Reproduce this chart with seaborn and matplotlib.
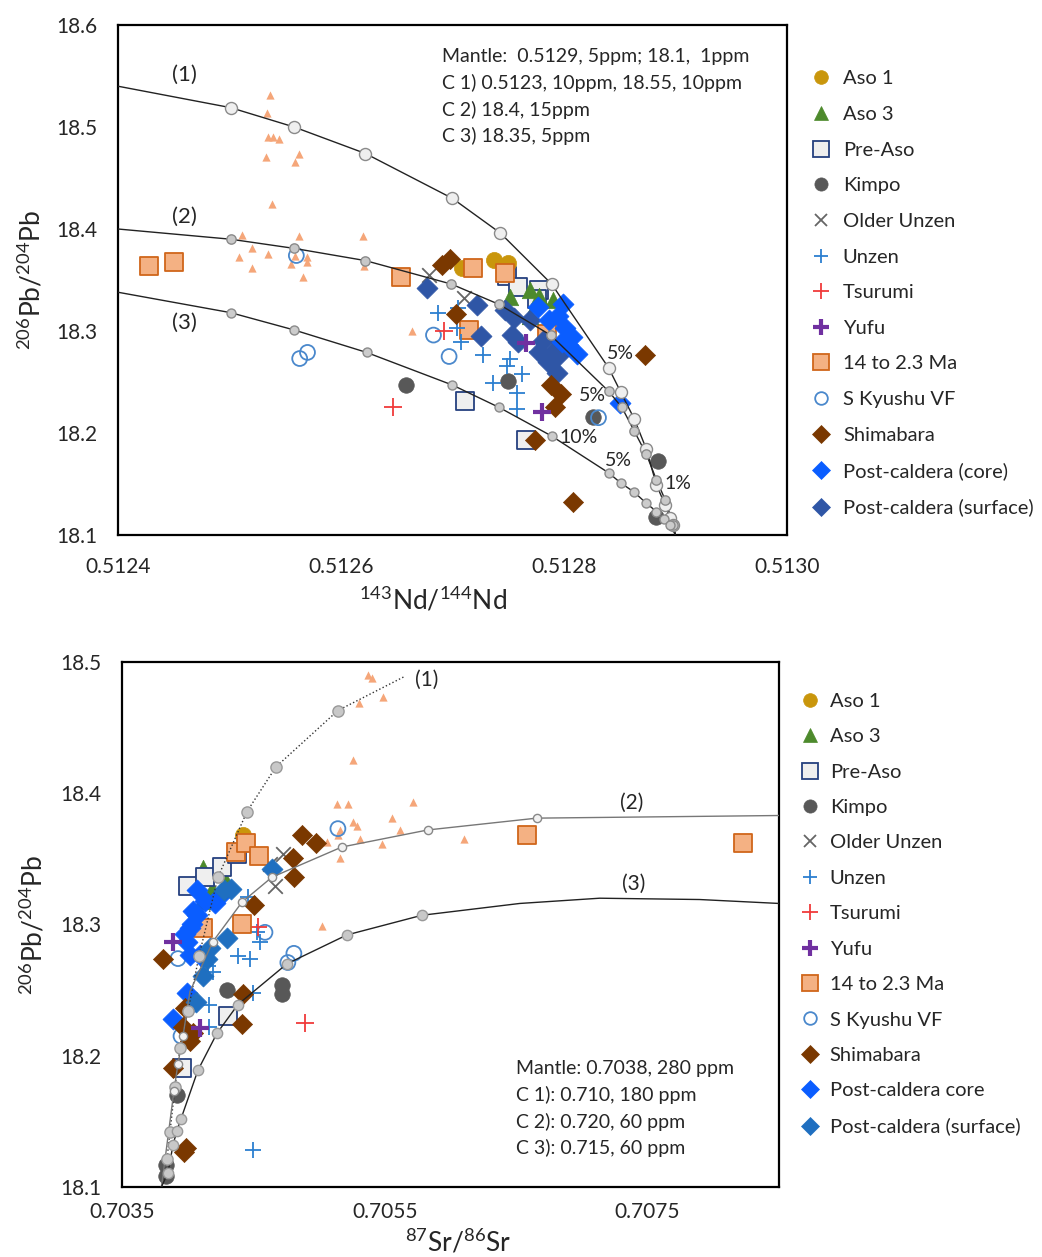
import matplotlib
matplotlib.use("Agg")
import matplotlib.pyplot as plt
from matplotlib.lines import Line2D
from matplotlib.ticker import MultipleLocator, FixedLocator, FuncFormatter
import seaborn as sns

# ------------------------------------------------------------------
# Panel A: 143Nd/144Nd vs 206Pb/204Pb
# ------------------------------------------------------------------
nd_aso1 = [0.512709, 0.512737, 0.512750]
pbA_aso1 = [18.362, 18.370, 18.367]
nd_aso3 = [0.512752, 0.512770, 0.512790, 0.512770, 0.512778]
pbA_aso3 = [18.333, 18.340, 18.330, 18.315, 18.334]
nd_preaso = [0.512749, 0.512759, 0.512778, 0.512776, 0.512711, 0.512766]
pbA_preaso = [18.354, 18.343, 18.340, 18.331, 18.231, 18.193]
nd_kimpo = [0.512658, 0.512750, 0.512884, 0.512883, 0.512826]
pbA_kimpo = [18.247, 18.251, 18.173, 18.118, 18.216]
nd_older_unzen = [0.512679, 0.512710]
pbA_older_unzen = [18.355, 18.332]
nd_unzen = [0.512687, 0.512705, 0.512704, 0.512708, 0.512727, 0.512752, 0.512749,
            0.512762, 0.512736, 0.512758, 0.512758, 0.512776]
pbA_unzen = [18.318, 18.323, 18.303, 18.289, 18.276, 18.273, 18.266,
             18.258, 18.249, 18.239, 18.224, 18.279]
nd_tsurumi = [0.512647, 0.512692]
pbA_tsurumi = [18.225, 18.300]
nd_yufu = [0.512766, 0.512780]
pbA_yufu = [18.288, 18.221]
nd_ma = [0.512428, 0.512450, 0.512654, 0.512718, 0.512747, 0.512715, 0.512785]
pbA_ma = [18.364, 18.368, 18.353, 18.362, 18.357, 18.301, 18.297]
nd_skyushu = [0.512560, 0.512563, 0.512570, 0.512683, 0.512697, 0.512831]
pbA_skyushu = [18.374, 18.273, 18.279, 18.296, 18.275, 18.215]
nd_shimabara = [0.512691, 0.512698, 0.512703, 0.512788, 0.512797, 0.512792,
                0.512774, 0.512873, 0.512808]
pbA_shimabara = [18.365, 18.371, 18.317, 18.247, 18.238, 18.225,
                 18.193, 18.276, 18.132]
nd_pc_core = [0.512777, 0.512799, 0.512787, 0.512801, 0.512807, 0.512798,
              0.512812, 0.512850, 0.512795, 0.512804]
pbA_pc_core = [18.324, 18.326, 18.311, 18.303, 18.294, 18.289,
               18.277, 18.229, 18.315, 18.286]
nd_pc_surf = [0.512677, 0.512722, 0.512747, 0.512755, 0.512726, 0.512753, 0.512759,
              0.512781, 0.512778, 0.512786, 0.512794, 0.512796, 0.512770, 0.512790]
pbA_pc_surf = [18.342, 18.325, 18.321, 18.313, 18.295, 18.296, 18.289,
               18.290, 18.279, 18.270, 18.259, 18.276, 18.311, 18.279]
# background field (small triangles, no legend entry)
nd_field = [0.512536, 0.512534, 0.512535, 0.512539, 0.512544, 0.512533, 0.512562,
            0.512559, 0.512538, 0.512511, 0.512562, 0.512620, 0.512520, 0.512535,
            0.512509, 0.512570, 0.512555, 0.512570, 0.512520, 0.512566, 0.512621,
            0.512664, 0.512559]
pbA_field = [18.531, 18.514, 18.490, 18.490, 18.488, 18.471, 18.474,
             18.466, 18.425, 18.394, 18.393, 18.393, 18.381, 18.375,
             18.373, 18.373, 18.366, 18.368, 18.362, 18.353, 18.364,
             18.300, 18.374]

# mixing curves (mantle end-member at 0.5129 / 18.1)
mixA1_nd = [0.51240, 0.512501, 0.512558, 0.512622, 0.512700, 0.512743, 0.512789,
            0.512840, 0.512851, 0.512863, 0.512874, 0.512883, 0.512891, 0.512895,
            0.512898, 0.51290]
mixA1_pb = [18.540, 18.519, 18.500, 18.474, 18.430, 18.396, 18.346,
            18.264, 18.240, 18.214, 18.184, 18.149, 18.129, 18.117,
            18.110, 18.100]
mixA2_nd = [0.51240, 0.512501, 0.512558, 0.512622, 0.512699, 0.512742, 0.512788,
            0.512840, 0.512852, 0.512863, 0.512874, 0.512883, 0.512891, 0.512898,
            0.51290]
mixA2_pb = [18.400, 18.390, 18.381, 18.369, 18.346, 18.326, 18.296,
            18.241, 18.225, 18.202, 18.179, 18.154, 18.134, 18.110,
            18.100]
mixA3_nd = [0.51240, 0.512501, 0.512558, 0.512623, 0.512700, 0.512742, 0.512789,
            0.512840, 0.512851, 0.512863, 0.512874, 0.512883, 0.512890, 0.512895,
            0.51290]
mixA3_pb = [18.338, 18.318, 18.301, 18.279, 18.247, 18.225, 18.197,
            18.161, 18.151, 18.142, 18.131, 18.123, 18.116, 18.110,
            18.100]

# ------------------------------------------------------------------
# Panel B: 87Sr/86Sr vs 206Pb/204Pb
# ------------------------------------------------------------------
sr_aso1 = [0.704420]
pbB_aso1 = [18.368]
sr_aso3 = [0.704116, 0.704291, 0.704108, 0.704184]
pbB_aso3 = [18.343, 18.333, 18.318, 18.327]
sr_preaso = [0.704002, 0.704131, 0.704261, 0.704375, 0.704306, 0.703956]
pbB_preaso = [18.329, 18.336, 18.344, 18.354, 18.230, 18.191]
sr_kimpo = [0.704299, 0.704717, 0.704717, 0.703918, 0.703835, 0.703835]
pbB_kimpo = [18.250, 18.254, 18.247, 18.170, 18.117, 18.108]
sr_older_unzen = [0.704724, 0.704626, 0.704664]
pbB_older_unzen = [18.354, 18.346, 18.329]
sr_unzen = [0.704458, 0.704527, 0.704549, 0.704382, 0.704473, 0.704154,
            0.704192, 0.704162, 0.704162, 0.704496, 0.704496]
pbB_unzen = [18.321, 18.294, 18.287, 18.276, 18.274, 18.268,
             18.264, 18.239, 18.222, 18.248, 18.128]
sr_tsurumi = [0.704892, 0.704534]
pbB_tsurumi = [18.225, 18.298]
sr_yufu = [0.703888, 0.704093]
pbB_yufu = [18.287, 18.221]
sr_ma = [0.704367, 0.704443, 0.704542, 0.704413, 0.704116, 0.706580, 0.708223]
pbB_ma = [18.355, 18.362, 18.352, 18.300, 18.297, 18.368, 18.362]
sr_skyushu = [0.705143, 0.704588, 0.704808, 0.704762, 0.703926, 0.703949]
pbB_skyushu = [18.373, 18.294, 18.278, 18.271, 18.274, 18.215]
sr_shimabara = [0.704869, 0.704975, 0.704800, 0.704808, 0.704504, 0.703812,
                0.704420, 0.704413, 0.703979, 0.703964, 0.704040, 0.704017,
                0.703888, 0.703987, 0.703972]
pbB_shimabara = [18.368, 18.362, 18.351, 18.336, 18.315, 18.274,
                 18.247, 18.224, 18.236, 18.222, 18.217, 18.211,
                 18.191, 18.130, 18.127]
sr_pc_core = [0.704070, 0.704131, 0.704245, 0.704207, 0.704040, 0.704070,
              0.704032, 0.703979, 0.704017, 0.703994, 0.704017, 0.704093,
              0.703994, 0.704017, 0.703888]
pbB_pc_core = [18.326, 18.318, 18.322, 18.316, 18.310, 18.307,
               18.300, 18.293, 18.297, 18.287, 18.277, 18.277,
               18.248, 18.239, 18.228]
sr_pc_surf = [0.704641, 0.704299, 0.704276, 0.704329, 0.704169, 0.704146,
              0.704116, 0.704063]
pbB_pc_surf = [18.342, 18.290, 18.326, 18.327, 18.282, 18.274,
               18.261, 18.241]
sr_field = [0.705371, 0.705401, 0.705302, 0.705485, 0.705257, 0.705135, 0.705219,
            0.705713, 0.705553, 0.705257, 0.705287, 0.705059, 0.705158, 0.705310,
            0.705477, 0.705614, 0.705158, 0.705143, 0.706101, 0.705021]
pbB_field = [18.490, 18.488, 18.469, 18.473, 18.425, 18.392, 18.392,
             18.393, 18.381, 18.378, 18.375, 18.363, 18.372, 18.365,
             18.361, 18.372, 18.351, 18.368, 18.365, 18.299]

mixB1_sr = [0.7038, 0.703842, 0.703865, 0.703903, 0.703941, 0.704002, 0.704086,
            0.704230, 0.704451, 0.704671, 0.705143, 0.705652]
mixB1_pb = [18.100, 18.121, 18.142, 18.176, 18.206, 18.234, 18.276,
            18.336, 18.386, 18.420, 18.463, 18.489]
mixB2_sr = [0.7038, 0.703895, 0.703926, 0.703964, 0.704017, 0.704192, 0.704413,
            0.704641, 0.705173, 0.705827, 0.706656, 0.7085]
mixB2_pb = [18.100, 18.173, 18.194, 18.215, 18.249, 18.287, 18.317,
            18.336, 18.359, 18.372, 18.381, 18.383]
mixB3_sr = [0.7038, 0.703850, 0.703888, 0.703918, 0.703949, 0.704078, 0.704222,
            0.704382, 0.704755, 0.705211, 0.705782, 0.706527, 0.707135, 0.707896,
            0.7085]
mixB3_pb = [18.100, 18.111, 18.132, 18.143, 18.152, 18.189, 18.217,
            18.239, 18.270, 18.292, 18.307, 18.316, 18.320, 18.319,
            18.316]
# tick-mark positions along each curve (indices into the arrays above)
nodesA1 = list(range(1, 15))
nodesA2 = list(range(1, 14))
nodesA3 = list(range(1, 14))
nodesB1 = list(range(1, 11))
nodesB2 = [1, 2, 3, 5, 6, 7, 8, 9, 10]
nodesB3 = list(range(1, 11))

legend_labels_A = ["Aso 1", "Aso 3", "Pre-Aso", "Kimpo", "Older Unzen", "Unzen",
                   "Tsurumi", "Yufu", "14 to 2.3 Ma", "S Kyushu VF", "Shimabara",
                   "Post-caldera (core)", "Post-caldera (surface)"]
legend_labels_B = ["Aso 1", "Aso 3", "Pre-Aso", "Kimpo", "Older Unzen", "Unzen",
                   "Tsurumi", "Yufu", "14 to 2.3 Ma", "S Kyushu VF", "Shimabara",
                   "Post-caldera core", "Post-caldera (surface)"]

# ------------------------------------------------------------------
# styling
# ------------------------------------------------------------------
sns.set_style("white")
FONT = ["Lato", "DejaVu Sans"]
plt.rcParams["font.family"] = FONT
plt.rcParams["mathtext.fontset"] = "custom"
plt.rcParams["mathtext.rm"] = "Lato"
plt.rcParams["mathtext.default"] = "regular"

SURF_A = "#2f56a6"
SURF_B = "#1f6fc0"
STYLES = [
    dict(marker="o", s=135, fc="#c9960c", ec="#c9960c", lw=0.5),        # Aso 1
    dict(marker="^", s=140, fc="#4d8a2c", ec="#4d8a2c", lw=0.5),        # Aso 3
    dict(marker="s", s=170, fc="#efefef", ec="#25407f", lw=1.3),        # Pre-Aso
    dict(marker="o", s=125, fc="#585858", ec="#585858", lw=0.5),        # Kimpo
    dict(marker="x", s=110, fc="#666666", ec="#666666", lw=1.3),        # Older Unzen
    dict(marker="+", s=130, fc="#2c7fd0", ec="#2c7fd0", lw=1.3),        # Unzen
    dict(marker="+", s=170, fc="#f03a3a", ec="#f03a3a", lw=1.3),        # Tsurumi
    dict(marker="+", s=170, fc="#7030a0", ec="#7030a0", lw=3.0),        # Yufu
    dict(marker="s", s=170, fc="#f4b183", ec="#d0661a", lw=1.3),        # 14 to 2.3 Ma
    dict(marker="o", s=115, fc="none", ec="#4a88cc", lw=1.3),           # S Kyushu VF
    dict(marker="D", s=105, fc="#7a3800", ec="#7a3800", lw=0.5),        # Shimabara
    dict(marker="D", s=115, fc="#0a5dff", ec="#0a5dff", lw=0.5),        # core
    dict(marker="D", s=115, fc=SURF_A, ec=SURF_A, lw=0.5),              # surface
]

fig = plt.figure(figsize=(10.42, 12.57), dpi=100)
axA = fig.add_axes([0.1132, 0.5744, 0.6420, 0.4057])
axB = fig.add_axes([0.1171, 0.0557, 0.6305, 0.4177])


def draw_points(ax, xs, ys, st, z):
    if st["marker"] in ("+", "x"):
        sns.scatterplot(x=xs, y=ys, ax=ax, marker=st["marker"], s=st["s"],
                        color=st["ec"], linewidth=st["lw"], zorder=z, legend=False)
    else:
        sns.scatterplot(x=xs, y=ys, ax=ax, marker=st["marker"], s=st["s"],
                        facecolor=st["fc"], edgecolor=st["ec"], linewidth=st["lw"],
                        zorder=z, legend=False)


def draw_curve(ax, xs, ys, nodes, ls, lc, node_s, node_fc, node_ec):
    sns.lineplot(x=xs, y=ys, ax=ax, sort=False, estimator=None, color=lc,
                 linewidth=1.0, linestyle=ls, zorder=20)
    sns.scatterplot(x=[xs[i] for i in nodes], y=[ys[i] for i in nodes], ax=ax,
                    s=node_s, facecolor=node_fc, edgecolor=node_ec, linewidth=1.0,
                    zorder=21, legend=False)


def style_axes(ax, x_major, x_minor, x_lo, x_hi, y_lo, y_hi, label_every, xpad, ypad):
    ax.set_xlim(x_lo, x_hi)
    ax.set_ylim(y_lo, y_hi)
    n_major = int(round((x_hi - x_lo) / x_major))
    n_minor = int(round((x_hi - x_lo) / x_minor))
    major = [x_lo + k * x_major for k in range(n_major + 1)]
    minor = [x_lo + k * x_minor for k in range(n_minor + 1)]
    ax.xaxis.set_major_locator(FixedLocator(major))
    ax.xaxis.set_minor_locator(FixedLocator(minor))
    ax.yaxis.set_major_locator(MultipleLocator(0.1))
    ax.yaxis.set_minor_locator(MultipleLocator(0.02))

    def xfmt(v, pos):
        k = int(round((v - x_lo) / x_major))
        return f"{v:.4f}" if k % label_every == 0 else ""

    ax.xaxis.set_major_formatter(FuncFormatter(xfmt))
    ax.yaxis.set_major_formatter(FuncFormatter(lambda v, p: f"{v:.1f}"))
    ax.tick_params(which="major", direction="inout", length=11, width=1.2,
                   labelsize=15, top=False, right=False)
    ax.tick_params(which="minor", direction="in", length=6, width=1.0,
                   top=False, right=False)
    ax.tick_params(axis="x", which="major", pad=xpad)
    ax.tick_params(axis="y", which="major", pad=ypad)
    for sp in ax.spines.values():
        sp.set_visible(True)
        sp.set_color("black")
        sp.set_linewidth(1.6)
    ax.set_facecolor("white")


# ---------------- Panel A ----------------
groupsA = [(nd_aso1, pbA_aso1), (nd_aso3, pbA_aso3), (nd_preaso, pbA_preaso),
           (nd_kimpo, pbA_kimpo), (nd_older_unzen, pbA_older_unzen),
           (nd_unzen, pbA_unzen), (nd_tsurumi, pbA_tsurumi), (nd_yufu, pbA_yufu),
           (nd_ma, pbA_ma), (nd_skyushu, pbA_skyushu), (nd_shimabara, pbA_shimabara),
           (nd_pc_core, pbA_pc_core), (nd_pc_surf, pbA_pc_surf)]
sns.scatterplot(x=nd_field, y=pbA_field, ax=axA, marker="^", s=35,
                color="#f5a679", linewidth=0, zorder=2, legend=False)
zorder_A = [5, 6, 4, 5, 6, 7, 7, 9, 5, 6, 8, 8, 7]
for (xs, ys), st, z in zip(groupsA, STYLES, zorder_A):
    draw_points(axA, xs, ys, st, z)

draw_curve(axA, mixA1_nd, mixA1_pb, nodesA1, "-", "#222222", 75, "#efefef", "#8a8a8a")
draw_curve(axA, mixA2_nd, mixA2_pb, nodesA2, "-", "#222222", 45, "#c8c8c8", "#8a8a8a")
draw_curve(axA, mixA3_nd, mixA3_pb, nodesA3, "-", "#222222", 42, "#cccccc", "#8a8a8a")

style_axes(axA, 0.0001, 0.00002, 0.5124, 0.5130, 18.1, 18.6, 2, 10, 9)
axA.set_xlabel(r"$^{143}$Nd/$^{144}$Nd", fontsize=19)
axA.set_ylabel(r"$^{206}$Pb/$^{204}$Pb", fontsize=19)
axA.xaxis.set_label_coords(0.471, -0.100)
axA.yaxis.set_label_coords(-0.108, 0.5)

for txt, xx, yy in [("(1)", 0.512460, 18.551), ("(2)", 0.512460, 18.412),
                    ("(3)", 0.512460, 18.308)]:
    axA.text(xx, yy, txt, fontsize=16, ha="center", va="center", zorder=30)
for txt, xx, yy in [("5%", 0.512839, 18.278), ("5%", 0.512813, 18.237),
                    ("10%", 0.512796, 18.196), ("5%", 0.512837, 18.173),
                    ("1%", 0.512890, 18.150)]:
    axA.text(xx, yy, txt, fontsize=14, ha="left", va="center", zorder=30)
boxA = ["Mantle:  0.5129, 5ppm; 18.1,  1ppm",
        "C 1) 0.5123, 10ppm, 18.55, 10ppm",
        "C 2) 18.4, 15ppm",
        "C 3) 18.35, 5ppm"]
for i, line in enumerate(boxA):
    axA.text(0.484, 0.939 - i * 0.0525, line, transform=axA.transAxes,
             fontsize=14, ha="left", va="center", zorder=30)

# ---------------- Panel B ----------------
groupsB = [(sr_aso1, pbB_aso1), (sr_aso3, pbB_aso3), (sr_preaso, pbB_preaso),
           (sr_kimpo, pbB_kimpo), (sr_older_unzen, pbB_older_unzen),
           (sr_unzen, pbB_unzen), (sr_tsurumi, pbB_tsurumi), (sr_yufu, pbB_yufu),
           (sr_ma, pbB_ma), (sr_skyushu, pbB_skyushu), (sr_shimabara, pbB_shimabara),
           (sr_pc_core, pbB_pc_core), (sr_pc_surf, pbB_pc_surf)]
STYLES_B = [dict(st) for st in STYLES]
STYLES_B[12] = dict(STYLES[12], fc=SURF_B, ec=SURF_B)
sns.scatterplot(x=sr_field, y=pbB_field, ax=axB, marker="^", s=35,
                color="#f5a679", linewidth=0, zorder=2, legend=False)
zorder_B = [4, 5, 6, 5, 6, 7, 7, 9, 7, 6, 8, 7, 8]
for (xs, ys), st, z in zip(groupsB, STYLES_B, zorder_B):
    draw_points(axB, xs, ys, st, z)

draw_curve(axB, mixB1_sr, mixB1_pb, nodesB1, ":", "#333333", 65, "#c8c8c8", "#999999")
draw_curve(axB, mixB2_sr, mixB2_pb, nodesB2, "-", "#777777", 35, "#f2f2f2", "#888888")
draw_curve(axB, mixB3_sr, mixB3_pb, nodesB3, "-", "#222222", 55, "#c8c8c8", "#999999")

style_axes(axB, 0.001, 0.0002, 0.7035, 0.7085, 18.1, 18.5, 2, 5, 9)
axB.set_xlabel(r"$^{87}$Sr/$^{86}$Sr", fontsize=19)
axB.set_ylabel(r"$^{206}$Pb/$^{204}$Pb", fontsize=19)
axB.xaxis.set_label_coords(0.511, -0.078)
axB.yaxis.set_label_coords(-0.114, 0.5)

for txt, xx, yy in [("(1)", 0.705820, 18.486), ("(2)", 0.707379, 18.393),
                    ("(3)", 0.707394, 18.331)]:
    axB.text(xx, yy, txt, fontsize=15, ha="center", va="center", zorder=30)
boxB = ["Mantle: 0.7038, 280 ppm",
        "C 1): 0.710, 180 ppm",
        "C 2): 0.720, 60 ppm",
        "C 3): 0.715, 60 ppm"]
for i, line in enumerate(boxB):
    axB.text(0.600, 0.225 - i * 0.0505, line, transform=axB.transAxes,
             fontsize=14, ha="left", va="center", zorder=30)


# ---------------- legends ----------------
def legend_handles(styles):
    hs = []
    for st in styles:
        ms = (st["s"] ** 0.5) * 0.85
        if st["marker"] in ("+", "x"):
            hs.append(Line2D([], [], linestyle="none", marker=st["marker"],
                             markersize=ms, color=st["ec"], markeredgewidth=st["lw"]))
        else:
            hs.append(Line2D([], [], linestyle="none", marker=st["marker"],
                             markersize=ms, markerfacecolor=st["fc"],
                             markeredgecolor=st["ec"], markeredgewidth=st["lw"]))
    return hs


fig.legend(legend_handles(STYLES), legend_labels_A, loc="upper left",
           bbox_to_anchor=(0.777, 0.944), frameon=False, fontsize=14.5,
           handlelength=1.15, handletextpad=0.5, labelspacing=0.92,
           borderpad=0, borderaxespad=0)
fig.legend(legend_handles(STYLES_B), legend_labels_B, loc="upper left",
           bbox_to_anchor=(0.766, 0.449), frameon=False, fontsize=14.5,
           handlelength=1.15, handletextpad=0.42, labelspacing=0.91,
           borderpad=0, borderaxespad=0)

fig.savefig("out.png", dpi=100, facecolor="white")
